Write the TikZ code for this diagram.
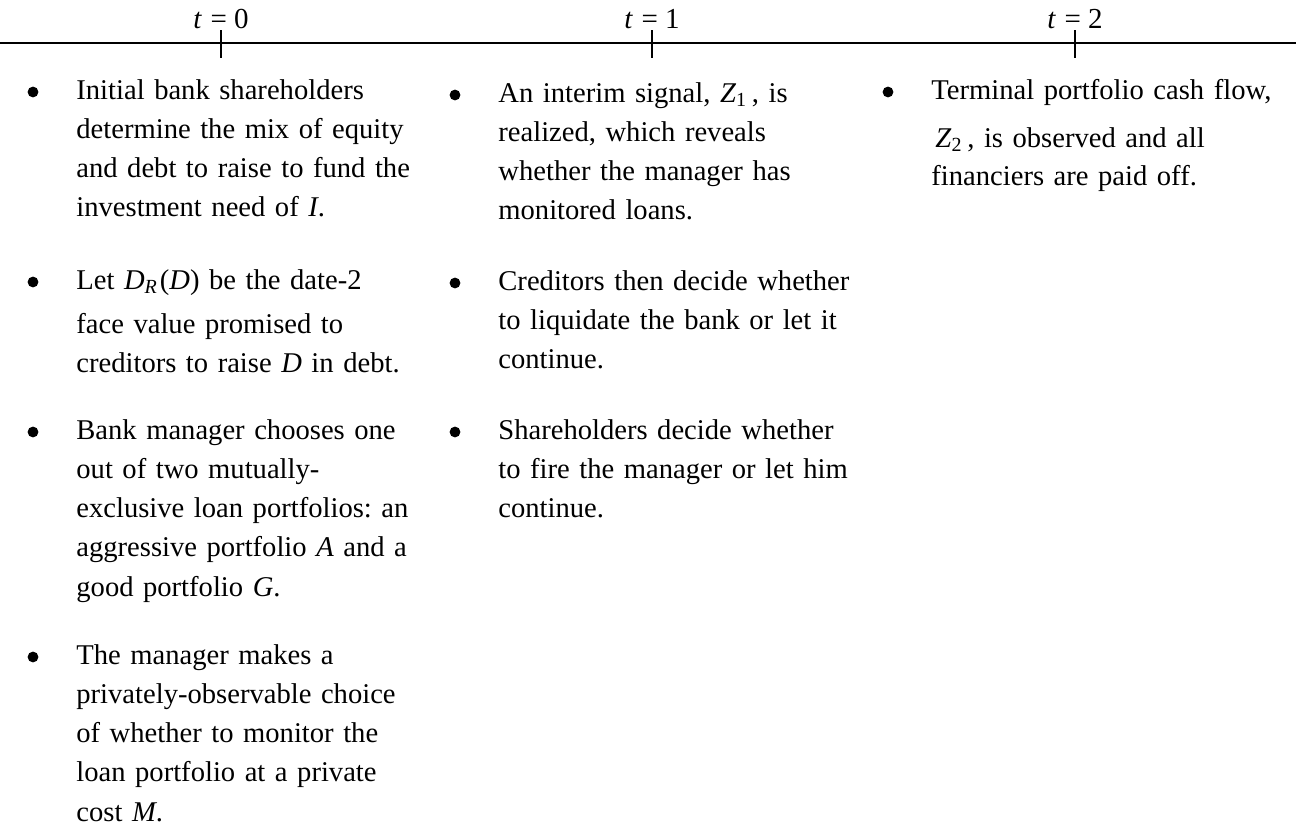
\documentclass[tikz,border=0pt]{standalone}
\usepackage{fontspec}
\setmainfont{Liberation Serif}
\usepackage{tikz}
\frenchspacing
\tikzstyle{timeline} = [x = 0.5pt, y = -0.5pt]
\tikzstyle{axisLine} = [color=black, line width=1pt]
\tikzstyle{tickLine} = [color=black, line width=1pt]
\tikzstyle{tickLabel} = [anchor=base, inner sep=0, font=\fontsize{14.5pt}{16pt}\selectfont]
\tikzstyle{eventText} = [anchor=base west, inner sep=0, text width=185pt, align=left, font=\eventFont]
\tikzstyle{bulletDot} = [circle, fill=black, inner sep=0, minimum size=5.4pt]
\newcommand{\eventFont}{\fontsize{14.3pt}{19.65pt}\selectfont}
\newcommand{\mvar}[1]{\textit{#1}}
\newcommand{\timeMark}[3]{
  \coordinate (#1) at (#2, 43);
  \draw [tickLine] (#1) ++(0, -13) -- ++(0, 28);
  \node [tickLabel] (#1Label) at (#2, 28) {\mvar{t}\hspace{.3em}=\hspace{.25em}#3};
}
\newcommand{\eventItem}[4]{
  \node [bulletDot] (#1Dot) at (#2 - 43, #3 - 7) {};
  \node [eventText] (#1) at (#2, #3) {#4};
}
\begin{document}
\begin{tikzpicture}[timeline]
  \useasboundingbox (0, 0) rectangle (1296, 825);
  \coordinate (axisStart) at (0, 43);
  \coordinate (axisEnd) at (1296, 43);
  \draw [axisLine] (axisStart) -- (axisEnd);
  \timeMark{tZero}{221}{0}
  \timeMark{tOne}{652}{1}
  \timeMark{tTwo}{1075}{2}

  % date 0
  \eventItem{fundMix}{76}{99}{Initial bank shareholders\\ determine the mix of equity\\ and debt to raise to fund the\\ investment need of \mvar{I}.}
  \eventItem{faceValue}{76}{289}{Let \mvar{D}\textsubscript{\mvar{R}}\hspace{1pt}(\mvar{D}) be the date-2\\[2.5pt] face value promised to\\ creditors to raise \mvar{D} in debt.}
  \eventItem{portfolioChoice}{76}{439}{Bank manager chooses one\\ out of two mutually-\\ exclusive loan portfolios: an\\ aggressive portfolio \mvar{A} and a\\ good portfolio \mvar{G}.}
  \eventItem{monitorChoice}{76}{664}{The manager makes a\\ privately-observable choice\\ of whether to monitor the\\ loan portfolio at a private\\ cost \mvar{M}.}

  % date 1
  \eventItem{interimSignal}{498}{102}{An interim signal, \mvar{Z}\textsubscript{1}\,, is\\ realized, which reveals\\ whether the manager has\\ monitored loans.}
  \eventItem{liquidation}{498}{290}{Creditors then decide whether\\ to liquidate the bank or let it\\ continue.}
  \eventItem{firing}{498}{439}{Shareholders decide whether\\ to fire the manager or let him\\ continue.}

  % date 2
  \eventItem{terminalFlow}{931}{99}{Terminal portfolio cash flow,\\[4.5pt] \hspace{2pt}\mvar{Z}\textsubscript{2}\,, is observed and all\\[-0.5pt] financiers are paid off.}
\end{tikzpicture}
\end{document}
